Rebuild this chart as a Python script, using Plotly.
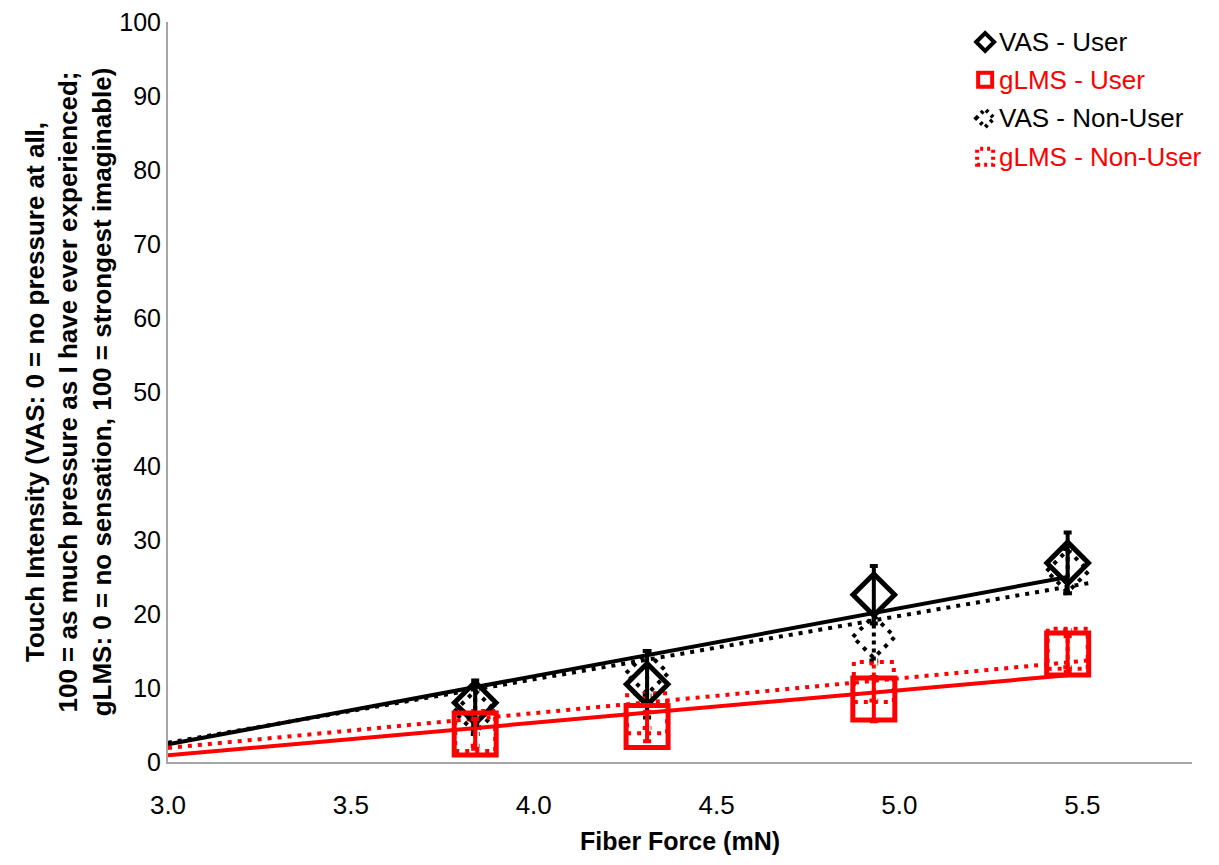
import plotly.graph_objects as go

# ---------------- data ----------------
force = [3.84, 4.31, 4.93, 5.46]

vas_user = [8.0, 10.5, 22.6, 26.9]
vas_user_err = [3.0, 4.5, 3.9, 4.1]

glms_user = [3.8, 4.8, 8.5, 14.6]
glms_user_err = [2.0, 2.0, 3.0, 2.4]

vas_non = [6.8, 12.0, 16.9, 25.8]
vas_non_err = [3.0, 3.0, 3.2, 3.0]

glms_non = [4.2, 6.6, 10.8, 15.3]
glms_non_err = [2.0, 2.0, 2.5, 2.5]

# trendlines: value at x=3.0, slope, x-extent
trend_names = ["VAS - User", "gLMS - User", "VAS - Non-User", "gLMS - Non-User"]
trend_start = [3.0, 3.0, 3.0, 3.0]
trend_end = [5.46, 5.46, 5.52, 5.52]
trend_at_start = [2.4, 0.9, 2.6, 1.9]
trend_slope = [9.19, 4.4, 8.57, 4.7]

x_ticks = [3.0, 3.5, 4.0, 4.5, 5.0, 5.5]
y_ticks = [0, 10, 20, 30, 40, 50, 60, 70, 80, 90, 100]

x_title = "Fiber Force (mN)"
legend_labels = ["VAS - User", "gLMS - User", "VAS - Non-User", "gLMS - Non-User"]
legend_colors = ["#000000", "#FF0000", "#000000", "#FF0000"]

BLACK = "#000000"
RED = "#FF0000"
FONT = "Liberation Sans, Arial, sans-serif"
DOT = "4px,6px"

fig = go.Figure()

# trendlines
trend_styles = [(BLACK, "solid"), (RED, "solid"), (BLACK, DOT), (RED, DOT)]
for i in range(4):
    xs = [trend_start[i], trend_end[i]]
    ys = [trend_at_start[i] + trend_slope[i] * (x - trend_start[i]) for x in xs]
    col, dash = trend_styles[i]
    fig.add_trace(go.Scatter(x=xs, y=ys, mode="lines",
                             line=dict(color=col, width=4, dash=dash),
                             showlegend=False, hoverinfo="skip"))

# dotted error bars for non-user series (built from data)
def err_lines(xv, yv, ev, cap=0.012):
    xs, ys = [], []
    for x, y, e in zip(xv, yv, ev):
        xs += [x, x, None, x - cap, x + cap, None, x - cap, x + cap, None]
        ys += [y - e, y + e, None, y + e, y + e, None, y - e, y - e, None]
    return xs, ys

for yv, ev, col in [(vas_non, vas_non_err, BLACK), (glms_non, glms_non_err, RED)]:
    ex, ey = err_lines(force, yv, ev)
    fig.add_trace(go.Scatter(x=ex, y=ey, mode="lines",
                             line=dict(color=col, width=4, dash="4px,4px"),
                             showlegend=False, hoverinfo="skip"))

# solid user series
fig.add_trace(go.Scatter(
    x=force, y=vas_user, mode="markers", name="VAS - User",
    marker=dict(symbol="diamond-open", size=32, color=BLACK, line=dict(color=BLACK, width=5)),
    error_y=dict(type="data", array=vas_user_err, color=BLACK, thickness=4, width=4),
    showlegend=False))
fig.add_trace(go.Scatter(
    x=force, y=glms_user, mode="markers", name="gLMS - User",
    marker=dict(symbol="square-open", size=42, color=RED, line=dict(color=RED, width=5)),
    error_y=dict(type="data", array=glms_user_err, color=RED, thickness=4, width=4),
    showlegend=False))

shapes = []
# dotted outline markers for non-user series (pixel-sized, anchored at data)
diamond_path = "M -21,0 L 0,21 L 21,0 L 0,-21 Z"
square_path = "M -20,-20 L 20,-20 L 20,20 L -20,20 Z"
for x, y in zip(force, vas_non):
    shapes.append(dict(type="path", xref="x", yref="y", xsizemode="pixel", ysizemode="pixel",
                       xanchor=x, yanchor=y, path=diamond_path, layer="below",
                       line=dict(color=BLACK, width=4, dash=DOT)))
for x, y in zip(force, glms_non):
    shapes.append(dict(type="path", xref="x", yref="y", xsizemode="pixel", ysizemode="pixel",
                       xanchor=x, yanchor=y, path=square_path, layer="below",
                       line=dict(color=RED, width=4, dash=DOT)))

# manual legend
leg_x = 0.798
leg_y = [0.973, 0.922, 0.870, 0.818]
leg_paths = ["M -9,0 L 0,9 L 9,0 L 0,-9 Z",
             "M -7,-7 L 7,-7 L 7,7 L -7,7 Z",
             "M -9,0 L 0,9 L 9,0 L 0,-9 Z",
             "M -8,-8 L 8,-8 L 8,8 L -8,8 Z"]
leg_dash = ["solid", "solid", "3px,4px", "3px,4px"]
annotations = []
for i in range(4):
    shapes.append(dict(type="path", xref="paper", yref="paper", xsizemode="pixel", ysizemode="pixel",
                       xanchor=leg_x, yanchor=leg_y[i], path=leg_paths[i],
                       line=dict(color=legend_colors[i], width=4, dash=leg_dash[i])))
    annotations.append(dict(x=leg_x + 0.0115, y=leg_y[i], xref="paper", yref="paper",
                            text=legend_labels[i], showarrow=False, xanchor="left", yanchor="middle",
                            font=dict(family=FONT, size=26, color=legend_colors[i])))

# x-axis title placed as an annotation sitting on the bottom edge of the figure
annotations.append(dict(x=0.5, y=-0.128, xref="paper", yref="paper",
                        text=f"<b>{x_title}</b>", showarrow=False,
                        xanchor="center", yanchor="bottom",
                        font=dict(family=FONT, size=25, color=BLACK)))

# page body has an 8px margin, so the figure is sized to fit inside the window
fig.update_layout(
    width=1203, height=849,
    margin=dict(l=160, r=19, t=14, b=95),
    paper_bgcolor="white", plot_bgcolor="white",
    shapes=shapes, annotations=annotations,
    showlegend=False,
    font=dict(family=FONT, color=BLACK),
)
fig.update_xaxes(
    range=[3.0, 5.8], tickvals=x_ticks, ticktext=[f"{v:.1f}" for v in x_ticks],
    automargin=False, ticklabeloverflow="allow",
    showgrid=False, zeroline=False, showline=True, linecolor="#A6A6A6", linewidth=2,
    ticks="", ticklabelstandoff=19, tickfont=dict(family=FONT, size=26, color=BLACK),
)
fig.update_yaxes(
    range=[0, 100], tickvals=y_ticks,
    automargin=False, ticklabeloverflow="allow",
    showgrid=False, zeroline=False, showline=True, linecolor="#A6A6A6", linewidth=2,
    ticks="", ticklabelstandoff=0, tickfont=dict(family=FONT, size=25, color=BLACK),
    title=dict(text="<b>Touch Intensity (VAS: 0 = no pressure at all,<br>"
                    "100 = as much pressure as I have ever experienced;<br>"
                    "gLMS: 0 = no sensation, 100 = strongest imaginable)</b>",
               standoff=0, font=dict(family=FONT, size=26, color=BLACK)),
)

fig.write_html("out.html")
